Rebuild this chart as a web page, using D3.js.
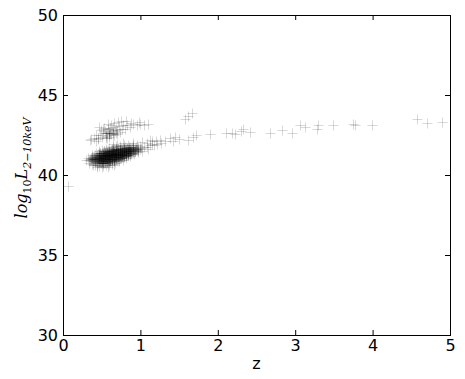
<!DOCTYPE html>
<html><head><meta charset="utf-8">
<script src="https://cdn.jsdelivr.net/npm/d3@7"></script>
<style>body{margin:0;background:#fff} svg{display:block}</style>
</head><body>
<script>
// Dense core of the low-z cloud
const coreZ = [0.335,0.348,0.352, 0.366,0.372,0.378,0.369, 0.395,0.402,0.398,0.405,0.41,
 0.425,0.431,0.428,0.436,0.433,0.44, 0.455,0.462,0.458,0.466,0.461,0.468,0.471,
 0.485,0.49,0.494,0.488,0.496,0.492,0.499,0.501, 0.515,0.519,0.523,0.518,0.526,0.521,0.528,0.524,0.531,
 0.545,0.552,0.548,0.556,0.55,0.558,0.553,0.56,0.547,0.562, 0.575,0.581,0.578,0.585,0.579,0.587,0.583,0.589,0.576,0.591,
 0.605,0.611,0.608,0.615,0.61,0.617,0.612,0.619,0.606,0.621, 0.635,0.641,0.638,0.645,0.64,0.647,0.642,0.649,0.636,0.651,
 0.665,0.671,0.668,0.675,0.67,0.677,0.672,0.679,0.666,0.681, 0.695,0.701,0.698,0.705,0.7,0.707,0.702,0.709,0.711,
 0.725,0.731,0.728,0.735,0.73,0.737,0.732,0.739,0.741, 0.755,0.761,0.758,0.765,0.76,0.767,0.762,0.769,
 0.785,0.791,0.788,0.795,0.79,0.797,0.792,0.799, 0.815,0.821,0.818,0.825,0.82,0.827,0.822,
 0.845,0.851,0.848,0.855,0.85,0.857,0.852, 0.875,0.881,0.878,0.885,0.88,0.887, 0.905,0.911,0.908,0.915,0.91,
 0.935,0.941,0.938,0.945, 0.965,0.971,0.968, 0.995,1.002,
 0.356,0.359, 0.384,0.388,0.386, 0.414,0.418,0.416,0.42,0.413, 0.444,0.448,0.446,0.45,0.443,0.452,
 0.474,0.478,0.476,0.48,0.473,0.482,0.477, 0.504,0.508,0.506,0.51,0.503,0.512,0.507,0.511,
 0.534,0.538,0.536,0.54,0.533,0.542,0.537,0.541, 0.564,0.568,0.566,0.57,0.563,0.572,0.567,0.571,
 0.594,0.598,0.596,0.6,0.593,0.602,0.597,0.601, 0.624,0.628,0.626,0.63,0.623,0.632,0.627,0.631,
 0.654,0.658,0.656,0.66,0.653,0.662,0.657,0.661, 0.684,0.688,0.686,0.69,0.683,0.692,0.687,0.691,
 0.714,0.718,0.716,0.72,0.713,0.722,0.717, 0.744,0.748,0.746,0.75,0.743,0.752,0.747,
 0.774,0.778,0.776,0.78,0.773,0.782, 0.804,0.808,0.806,0.81,0.803,0.812, 0.834,0.838,0.836,0.84,0.833,
 0.864,0.868,0.866,0.87,0.863, 0.894,0.898,0.896,0.9, 0.924,0.928,0.926, 0.954,0.958,
 0.463,0.467,0.461,0.465,0.469, 0.488,0.484,0.491,0.486,0.489,0.483, 0.513,0.509,0.516,0.511,0.514,0.517,
 0.538,0.535,0.541,0.536,0.539,0.543,0.534, 0.563,0.559,0.566,0.561,0.564,0.568,
 0.588,0.585,0.591,0.586,0.589,0.593,0.584, 0.613,0.609,0.616,0.611,0.614,0.618,
 0.638,0.635,0.641,0.636,0.639,0.643,0.634, 0.663,0.659,0.666,0.661,0.664,0.668,
 0.688,0.684,0.691,0.686,0.689,0.693, 0.713,0.709,0.716,0.711,0.714,0.718,
 0.738,0.735,0.741,0.736,0.739, 0.763,0.759,0.766,0.761,0.764, 0.788,0.785,0.791,0.786,0.789,
 0.813,0.809,0.816,0.811, 0.838,0.835,0.841,0.836, 0.863,0.859,0.866];
const coreL = [40.95,41.02,40.9, 40.92,41.05,40.98,41.12, 40.85,40.97,41.08,41.18,41.0,
 40.8,40.93,41.04,41.15,41.27,40.99, 40.75,40.88,41.0,41.1,41.22,41.35,41.05,
 40.74,40.86,40.97,41.08,41.17,41.28,41.4,41.02, 40.72,40.84,40.95,41.06,41.15,41.25,41.36,41.47,41.1,
 40.74,40.85,40.97,41.08,41.18,41.28,41.39,41.5,41.22,41.03, 40.76,40.88,41.0,41.11,41.21,41.31,41.42,41.53,41.16,41.26,
 40.8,40.91,41.03,41.14,41.24,41.34,41.45,41.56,41.19,41.29, 40.84,40.95,41.06,41.17,41.27,41.37,41.48,41.59,41.22,41.32,
 40.88,40.99,41.1,41.2,41.3,41.4,41.51,41.62,41.25,41.35, 40.93,41.04,41.14,41.24,41.34,41.44,41.54,41.65,41.29,
 40.98,41.09,41.19,41.28,41.38,41.48,41.58,41.68,41.33, 41.04,41.14,41.24,41.33,41.42,41.52,41.62,41.71,
 41.1,41.2,41.29,41.38,41.47,41.56,41.66,41.75, 41.16,41.26,41.35,41.44,41.53,41.62,41.71,
 41.24,41.33,41.42,41.51,41.6,41.69,41.78, 41.3,41.4,41.49,41.58,41.67,41.76, 41.38,41.47,41.56,41.65,41.74,
 41.45,41.55,41.64,41.73, 41.52,41.62,41.71, 41.6,41.7,
 40.98,41.06, 40.88,40.99,41.1, 40.82,40.92,41.03,41.13,41.22, 40.78,40.9,41.0,41.1,41.2,41.3,
 40.76,40.86,40.96,41.06,41.16,41.26,41.36, 40.75,40.85,40.95,41.05,41.14,41.24,41.34,41.44,
 40.76,40.86,40.96,41.06,41.16,41.26,41.36,41.46, 40.78,40.89,40.99,41.09,41.19,41.29,41.39,41.49,
 40.82,40.93,41.03,41.13,41.23,41.33,41.43,41.53, 40.86,40.97,41.07,41.17,41.27,41.37,41.47,41.57,
 40.9,41.01,41.11,41.21,41.31,41.41,41.51,41.6, 40.95,41.05,41.15,41.25,41.35,41.45,41.55,41.64,
 41.0,41.1,41.2,41.3,41.4,41.5,41.6, 41.06,41.16,41.26,41.36,41.46,41.56,41.66,
 41.12,41.22,41.32,41.42,41.52,41.62, 41.18,41.28,41.38,41.48,41.58,41.68, 41.25,41.35,41.45,41.55,41.65,
 41.32,41.42,41.52,41.62,41.72, 41.4,41.5,41.6,41.7, 41.48,41.58,41.68, 41.55,41.65,
 40.82,40.94,41.06,41.18,41.3, 40.8,40.92,41.04,41.16,41.28,41.4, 40.78,40.9,41.02,41.14,41.26,41.38,
 40.8,40.92,41.04,41.16,41.28,41.4,41.5, 40.83,40.95,41.07,41.19,41.31,41.43,
 40.86,40.98,41.1,41.22,41.34,41.46,41.56, 40.88,41.0,41.12,41.24,41.36,41.48,
 40.91,41.03,41.15,41.27,41.39,41.51,41.6, 40.94,41.06,41.18,41.3,41.42,41.54,
 40.98,41.1,41.22,41.34,41.46,41.58, 41.02,41.14,41.26,41.38,41.5,41.62,
 41.06,41.18,41.3,41.42,41.54, 41.1,41.22,41.34,41.46,41.58, 41.16,41.28,41.4,41.52,41.64,
 41.22,41.34,41.46,41.58, 41.28,41.4,41.52,41.64, 41.35,41.47,41.59];
// Halo round the core
const haloZ = [0.3,0.32,0.34,0.37,0.41,0.44,0.47,0.52,0.55,0.6,0.63,0.67,0.72,0.38,0.42,0.46,0.5,0.55,0.6,0.64,
 0.69,0.74,0.79,0.84,0.9,0.95,1.0,1.05,1.08,1.12,1.18,1.22,1.02,0.97,0.92,0.87,0.82,0.77,1.1,0.9,0.78,0.7,0.65,
 1.26,1.15,0.35,0.42,0.45,0.5,0.58,0.66,0.44,0.39];
const haloL = [40.92,41.05,40.78,40.7,40.6,40.65,40.55,40.58,40.6,40.62,40.7,40.75,40.85,41.25,41.38,41.5,41.58,41.65,41.7,41.75,
 41.8,41.82,41.88,41.9,41.88,41.85,41.82,41.78,41.72,41.85,41.9,41.95,41.5,41.42,41.3,41.2,41.05,40.95,41.6,42.0,42.0,41.9,41.95,
 41.98,42.1,42.2,42.15,42.25,40.5,40.52,40.6,40.48,40.62];
// Upper group near log L ~ 42.7
const upperZ = [0.45,0.48,0.5,0.52,0.54,0.55,0.57,0.58,0.59,0.6,0.61,0.62,0.63,0.64,0.65,0.66,0.67,0.68,0.69,0.7,
 0.72,0.74,0.76,0.78,0.8,0.83,0.86,0.9,0.95,1.0,1.05,0.56,0.6,0.62,0.58,0.66,0.53,0.49,0.61,0.7,0.52,0.64,0.55,0.59,0.57,0.4,0.43,
 0.36,0.47,0.71,0.75,0.82,0.88,0.98,1.1];
const upperL = [42.3,42.5,42.4,42.6,42.75,42.45,42.6,42.85,42.5,42.7,42.95,42.55,42.8,42.65,43.0,42.5,42.75,42.9,42.6,42.8,
 43.05,42.7,42.9,43.1,42.85,43.15,43.0,43.2,43.1,43.2,43.15,42.3,42.35,43.1,43.2,43.25,42.95,42.8,42.6,42.55,42.85,42.55,42.65,42.65,42.3,42.3,42.5,
 42.25,43.0,43.3,43.4,43.35,43.25,43.3,43.2];
// Sparse high-z sources
const sparseZ = [1.08,1.15,1.2,1.25,1.32,1.38,1.42,1.45,1.5,1.62,1.68,1.72,1.9,2.1,2.18,2.22,2.3,2.33,1.58,1.62,1.67,1.02,1.12,
 2.42,2.67,2.83,2.96,3.06,3.13,3.28,3.29,3.49,3.75,3.77,3.99,4.57,4.7,4.9,0.07];
const sparseL = [42.0,41.95,42.1,42.2,42.15,42.3,42.1,42.4,42.25,42.2,42.35,42.5,42.55,42.6,42.65,42.55,42.75,42.85,43.5,43.7,43.85,42.05,42.2,
 42.7,42.6,42.8,42.6,43.1,43.0,42.9,43.1,43.1,43.2,43.1,43.1,43.5,43.25,43.3,39.3];
const xTicks = [0,1,2,3,4,5];
const yTicks = [30,35,40,45,50];

const W = 465, H = 379;
const svg = d3.select("body").append("svg").attr("width", W).attr("height", H)
  .style("font-family", "'DejaVu Sans', sans-serif");
const x = d3.scaleLinear().domain([0, 5]).range([63, 450]);
const y = d3.scaleLinear().domain([30, 50]).range([335, 15]);

const pts = [];
[[coreZ, coreL], [haloZ, haloL], [upperZ, upperL], [sparseZ, sparseL]].forEach(([zs, ls]) => {
  zs.forEach((z, i) => pts.push([z, ls[i]]));
});

svg.append("defs").append("clipPath").attr("id", "c")
  .append("rect").attr("x", 63).attr("y", 15).attr("width", 387).attr("height", 320);

const s = 5;
svg.append("g").attr("clip-path", "url(#c)").selectAll("path").data(pts).join("path")
  .attr("d", d => {
    const px = Math.round(x(d[0])) + 0.5, py = Math.round(y(d[1])) + 0.5;
    return `M${px - s},${py}H${px + s}M${px},${py - s}V${py + s}`;
  })
  .attr("fill", "none").attr("stroke", "#000").attr("stroke-width", 1).attr("stroke-opacity", 0.15);

const fs = 16;
const gx = svg.append("g").attr("transform", "translate(0,335)")
  .call(d3.axisBottom(x).tickValues(xTicks).tickFormat(d3.format("d")).tickSizeInner(-5).tickSizeOuter(0).tickPadding(5));
const gxt = svg.append("g").attr("transform", "translate(0,15)")
  .call(d3.axisTop(x).tickValues(xTicks).tickFormat("").tickSizeInner(-5).tickSizeOuter(0));
const gy = svg.append("g").attr("transform", "translate(63,0)")
  .call(d3.axisLeft(y).tickValues(yTicks).tickFormat(d3.format("d")).tickSizeInner(-5).tickSizeOuter(0).tickPadding(5));
const gyr = svg.append("g").attr("transform", "translate(450,0)")
  .call(d3.axisRight(y).tickValues(yTicks).tickFormat("").tickSizeInner(-5).tickSizeOuter(0));
[gx, gxt, gy, gyr].forEach(g => {
  g.select(".domain").remove();
  g.selectAll("text").attr("font-size", fs).attr("font-family", "'DejaVu Sans', sans-serif").attr("fill", "#000");
  g.selectAll("line").attr("stroke", "#000");
});

svg.append("rect").attr("x", 63.5).attr("y", 15.5).attr("width", 387).attr("height", 320)
  .attr("fill", "none").attr("stroke", "#000").attr("stroke-width", 1);

svg.append("text").attr("x", 256.5).attr("y", 369).attr("text-anchor", "middle")
  .attr("font-size", fs).text("z");

const yl = svg.append("text").attr("transform", "translate(27,168) rotate(-90)")
  .attr("text-anchor", "middle").attr("font-family", "'DejaVu Serif', serif")
  .attr("font-style", "italic").attr("font-size", 16);
yl.append("tspan").text("log");
yl.append("tspan").attr("font-size", 11).attr("dy", 4).attr("font-style", "normal").text("10");
yl.append("tspan").attr("dy", -4).text("L");
yl.append("tspan").attr("font-size", 11).attr("dy", 4).text("2\u221210keV");
</script>
</body></html>
